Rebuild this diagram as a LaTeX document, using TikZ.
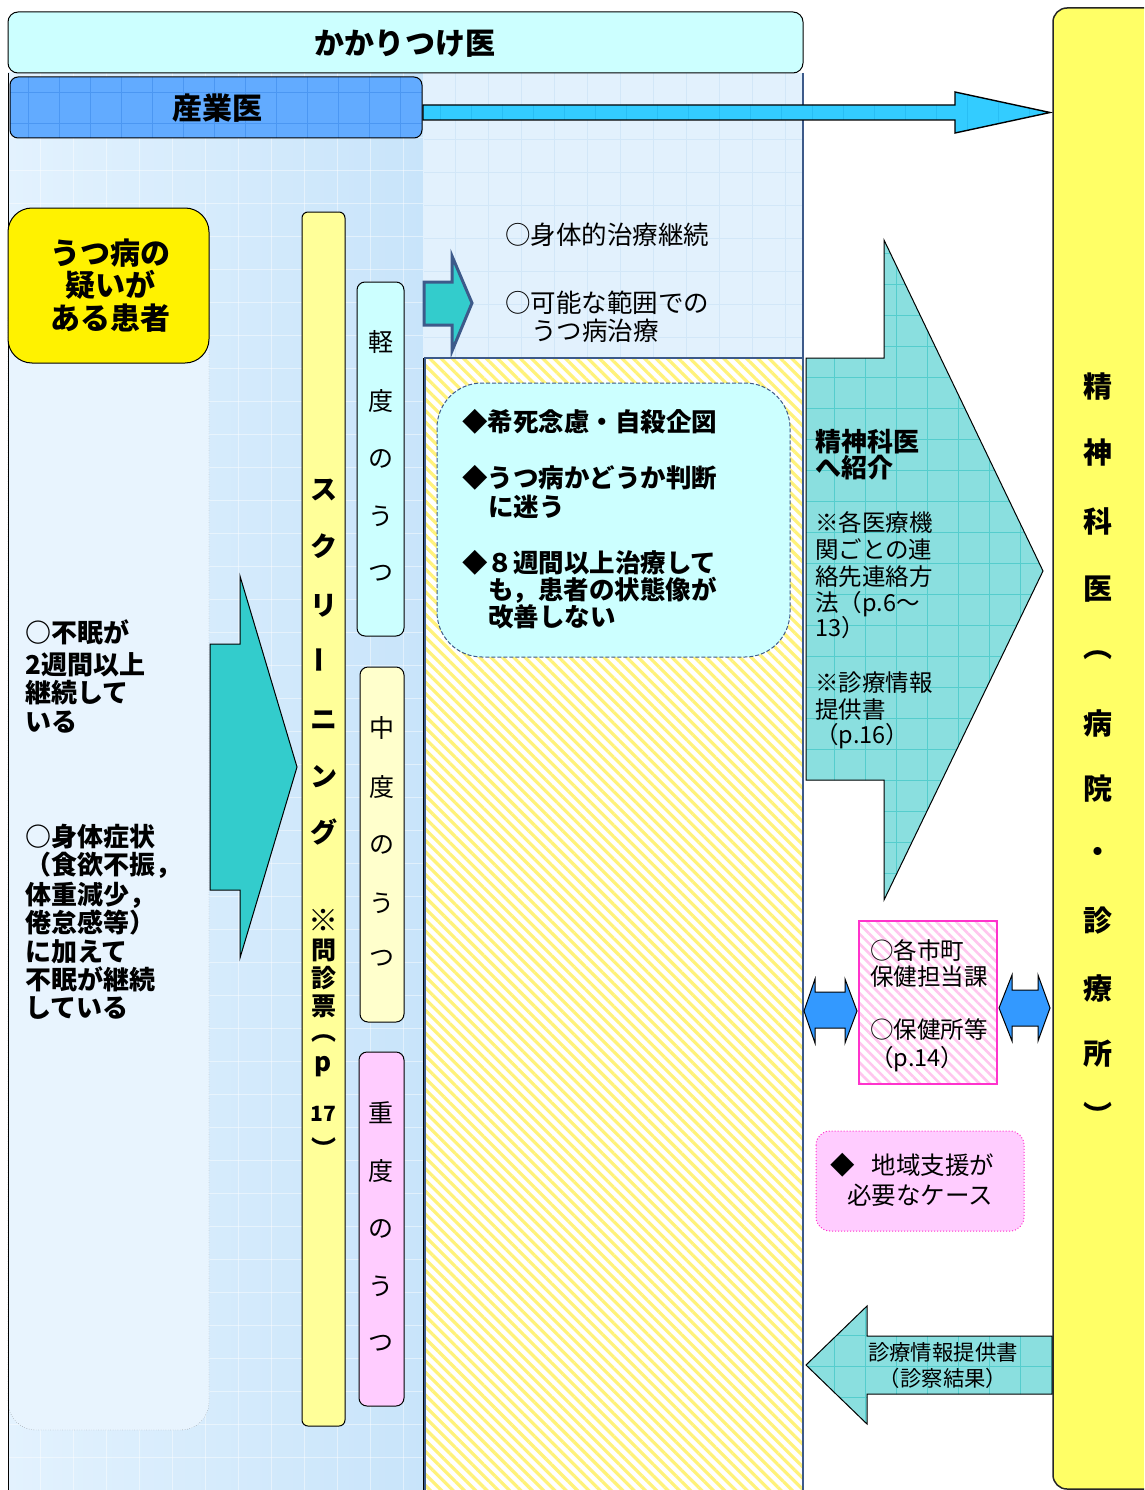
\documentclass[tikz,border=0pt]{standalone}
\usepackage{fontspec}
\usepackage{graphicx}
\usetikzlibrary{patterns.meta}
\newfontfamily\jp{Noto Sans CJK JP}
\definecolor{kakari}{HTML}{CCFFFF}
\definecolor{panelL}{HTML}{E3F2FE}
\definecolor{panelR}{HTML}{C8E4FA}
\definecolor{innerL}{HTML}{E8F4FE}
\definecolor{midtop}{HTML}{E2F1FD}
\definecolor{midgrid}{HTML}{D2E7F8}
\definecolor{sangyo}{HTML}{62ABFF}
\definecolor{sgrid}{HTML}{4B97F2}
\definecolor{larrow}{HTML}{33CCFF}
\definecolor{lagrid}{HTML}{22B5EE}
\definecolor{tealA}{HTML}{33CCCC}
\definecolor{slate}{HTML}{3D5A8A}
\definecolor{tealB}{HTML}{8ADFDF}
\definecolor{tgrid}{HTML}{55CDCD}
\definecolor{dblue}{HTML}{3399FF}
\definecolor{ycol}{HTML}{FFFF66}
\definecolor{yscr}{HTML}{FFFF99}
\definecolor{lcyan}{HTML}{CCFFFF}
\definecolor{lyel}{HTML}{FFFFCC}
\definecolor{lpink}{HTML}{FFCCFF}
\definecolor{mag}{HTML}{FF33CC}
\definecolor{stripeY}{HTML}{FFF27A}
\definecolor{stripeP}{HTML}{FFC6EE}
\tikzset{
  jr/.style={inner sep=0pt, font={\jp\fontsize{#1}{#1}\selectfont}},
  jb/.style={inner sep=0pt, font={\jp\bfseries\fontsize{#1}{#1}\selectfont}},
  outl/.style={draw=black, line width=1pt},
}
\begin{document}
\begin{tikzpicture}[x=1pt,y=-1pt]
\clip (0,0) rectangle (1144,1490);
\fill[white] (0,0) rectangle (1144,1490);

% ---------- left panel (産業医 area)
\shade[left color=panelL, right color=panelR] (8,73) rectangle (423,1495);
\foreach \gx in {40,73,...,420} \draw[white, opacity=0.45] (\gx,73) -- (\gx,1495);
\foreach \gy in {104,137,...,1490} \draw[white, opacity=0.45] (8,\gy) -- (423,\gy);
\draw[dotted, gray!80!black, fill=innerL, rounded corners=28] (8,290) rectangle (209,1430);
\draw[black, line width=1pt] (8,73) -- (8,1495);
\draw[black, line width=1pt] (423,73) -- (423,1495);

% ---------- middle top region
\fill[midtop] (423,73) rectangle (803,358);
\foreach \gx in {455,488,...,800} \draw[midgrid] (\gx,73) -- (\gx,358);
\foreach \gy in {106,139,...,355} \draw[midgrid] (424,\gy) -- (803,\gy);

% ---------- middle lower region (stripes)
\fill[white] (424,358) rectangle (803,1495);
\fill[pattern={Lines[angle=-45,distance=8pt,line width=3.2pt]}, pattern color=stripeY] (424,358) rectangle (803,1495);
\draw[slate, line width=1.5pt] (425,1495) -- (425,358) -- (803,358);
\draw[slate, line width=1.5pt] (803,73) -- (803,1495);

% ---------- かかりつけ医
\draw[black, line width=1pt, fill=kakari, rounded corners=10] (8,12) rectangle (803,73);
\node[jb=30, anchor=base] (kakari) at (405,54.4) {かかりつけ医};

% ---------- 産業医
\begin{scope}
\clip[rounded corners=8] (10,77) rectangle (422,138);
\fill[sangyo] (10,77) rectangle (422,138);
\foreach \gx in {28,59,...,422} \draw[sgrid] (\gx,77) -- (\gx,138);
\foreach \gy in {92,123} \draw[sgrid] (10,\gy) -- (422,\gy);
\end{scope}
\draw[rounded corners=8, line width=1pt] (10,77) rectangle (422,138);
\node[jb=30, anchor=base] (sangyo) at (217,119.4) {産業医};

% ---------- long arrow to 精神科医
\begin{scope}
\clip (423,105) -- (955,105) -- (955,92) -- (1050,112.5) -- (955,133) -- (955,120) -- (423,120) -- cycle;
\fill[larrow] (423,90) rectangle (1052,135);
\foreach \gx in {440,471,...,1050} \draw[lagrid, opacity=0.6] (\gx,90) -- (\gx,135);
\end{scope}
\draw[outl, line width=1.4pt] (423,105) -- (955,105) -- (955,92) -- (1050,112.5) -- (955,133) -- (955,120) -- (423,120) -- cycle;

% ---------- right column 精神科医（病院・診療所）
\draw[line width=1.5pt, draw=black!85, fill=ycol, rounded corners=14] (1053,8) rectangle (1165,1489);
\foreach \c/\yy [count=\i] in {精/387,神/453,科/521,医/589,︵/655,病/723,院/789,・/855,診/921,療/988,所/1054,︶/1114}
  \node[jb=29] (col\i) at (1098,\yy) {\c};

% ---------- うつ病の疑いがある患者
\draw[outl, fill=yellow, rounded corners=24] (8,208) rectangle (209,363);
\node[jb=30, anchor=base] (pat1) at (110,264.4) {うつ病の};
\node[jb=30, anchor=base] (pat2) at (110,296.4) {疑いが};
\node[jb=30, anchor=base] (pat3) at (110,329.4) {ある患者};

% ---------- left symptom texts
\foreach \t/\yy [count=\i] in {○不眠が/633,2週間以上/665,継続して/693,いる/722}
  \node[jb=26, anchor=base west] (la\i) at (25,\yy+9.9) {\t};
\foreach \t/\yy [count=\i] in {○身体症状/837,（食欲不振，/865,体重減少，/895,倦怠感等）/923,に加えて/952,不眠が継続/980,している/1008}
  \node[jb=26, anchor=base west] (lb\i) at (25,\yy+9.9) {\t};

% ---------- big teal arrow (left)
\draw[outl, fill=tealA] (210,644) -- (240,644) -- (240,576) -- (297,767) -- (240,958) -- (240,890) -- (210,890) -- cycle;

% ---------- screening bar
\draw[outl, fill=yscr, rounded corners=6] (302,212) rectangle (345,1426);
\foreach \c/\yy [count=\i] in {ス/490,ク/546,リ/606,ニ/720,ン/777,グ/832}
  \node[jb=27] (scr\i) at (323.5,\yy) {\c};
\node[jb=27] (scrbar) at (323.5,660) {\rotatebox{90}{ー}};
\node[jb=30] (mon0) at (323.5,920) {※};
\foreach \c/\yy [count=\i] in {問/950,診/978,票/1006,︵/1038}
  \node[jb=25] (mon\i) at (323.5,\yy) {\c};
\node[jb=26] (monp) at (323.5,1067) {p};
\node[jb=21] (mon17) at (323.5,1114) {17};
\node[jb=25] (monclose) at (323.5,1148) {︶};

% ---------- severity boxes
\draw[outl, fill=lcyan, rounded corners=8] (357,282) rectangle (404,636);
\foreach \c/\yy [count=\i] in {軽/342,度/401,の/459,う/516,つ/573}
  \node[jr=25] (kei\i) at (381,\yy) {\c};
\draw[outl, fill=lyel, rounded corners=8] (360,667) rectangle (404,1022);
\foreach \c/\yy [count=\i] in {中/728,度/787,の/845,う/903,つ/958}
  \node[jr=25] (chu\i) at (382,\yy) {\c};
\draw[outl, fill=lpink, rounded corners=8] (359,1052) rectangle (404,1406);
\foreach \c/\yy [count=\i] in {重/1113,度/1171,の/1229,う/1286,つ/1343}
  \node[jr=25] (ju\i) at (381,\yy) {\c};

% ---------- small teal arrow + middle-top texts
\draw[draw=slate, line width=3pt, fill=tealA, line join=miter] (424,282) -- (452,282) -- (452,256) -- (472,303) -- (452,351) -- (452,325) -- (424,325) -- cycle;
\node[jr=25.5, anchor=base west] (mt1) at (505,244.7) {○身体的治療継続};
\node[jr=25.5, anchor=base west] (mt2) at (505,312.7) {○可能な範囲での};
\node[jr=25.5, anchor=base west] (mt3) at (531,340.7) {うつ病治療};

% ---------- dashed referral-criteria box
\draw[slate, dash pattern=on 4pt off 2pt, line width=1pt, fill=lcyan, rounded corners=45] (437,383) rectangle (790,657);
\node[jb=25.5, anchor=base west] (cr1) at (462,431.7) {◆希死念慮・自殺企図};
\node[jb=25.5, anchor=base west] (cr2) at (462,487.7) {◆うつ病かどうか判断};
\node[jb=25.5, anchor=base west] (cr3) at (488,516.7) {に迷う};
\node[jb=25.5, anchor=base west] (cr4) at (462,572.7) {◆８週間以上治療して};
\node[jb=25.5, anchor=base west] (cr5) at (488,599.7) {も，患者の状態像が};
\node[jb=25.5, anchor=base west] (cr6) at (488,626.7) {改善しない};

% ---------- big teal arrow (right)
\begin{scope}
\clip (806,358) -- (884,358) -- (884,240) -- (1043,571) -- (884,900) -- (884,780) -- (806,780) -- cycle;
\fill[tealB] (800,235) rectangle (1050,905);
\foreach \gx in {834,865,...,1050} \draw[tgrid] (\gx,235) -- (\gx,905);
\foreach \gy in {253,284,...,905} \draw[tgrid] (800,\gy) -- (1050,\gy);
\end{scope}
\draw[outl] (806,358) -- (884,358) -- (884,240) -- (1043,571) -- (884,900) -- (884,780) -- (806,780) -- cycle;
\node[jb=26, anchor=base west] (ref1) at (815,451.9) {精神科医};
\node[jb=26, anchor=base west] (ref2) at (815,477.9) {へ紹介};
\foreach \t/\yy [count=\i] in {※各医療機/523,関ごとの連/550,絡先連絡方/577,法（p.6～/603,13）/628,※診療情報/683,提供書/710,（p.16）/735}
  \node[jr=23.5, anchor=base west] (note\i) at (815,\yy+8.9) {\t};

% ---------- health office box and double arrows
\fill[white] (859,921) rectangle (997,1084);
\fill[pattern={Lines[angle=-45,distance=7pt,line width=2.6pt]}, pattern color=stripeP] (859,921) rectangle (997,1084);
\draw[mag, line width=1.5pt] (859,921) rectangle (997,1084);
\foreach \t/\yy [count=\i] in {○各市町/951,保健担当課/977,○保健所等/1030,（p.14）/1058}
  \node[jr=23.5, anchor=base west] (ho\i) at (870,\yy+8.9) {\t};
\draw[outl, fill=dblue] (804,1011) -- (815,979) -- (815,992) -- (845,992) -- (845,979) -- (857,1011) -- (845,1043) -- (845,1028) -- (815,1028) -- (815,1043) -- cycle;
\draw[outl, fill=dblue] (999,1008) -- (1012,975) -- (1012,990) -- (1038,990) -- (1038,975) -- (1050,1008) -- (1038,1041) -- (1038,1026) -- (1012,1026) -- (1012,1041) -- cycle;

% ---------- community support box
\draw[mag, dotted, line width=1pt, fill=lpink, rounded corners=14] (816,1131) rectangle (1024,1231);
\node[jr=24.5, anchor=base west] (cs1) at (830,1174.3) {◆\hspace{17pt}地域支援が};
\node[jr=24.5, anchor=base west] (cs2) at (847,1204.3) {必要なケース};

% ---------- return arrow
\begin{scope}
\clip (806,1365) -- (867,1306) -- (867,1336) -- (1052,1336) -- (1052,1394) -- (867,1394) -- (867,1424) -- cycle;
\fill[tealB] (800,1300) rectangle (1055,1430);
\foreach \gx in {834,865,...,1055} \draw[tgrid] (\gx,1300) -- (\gx,1430);
\foreach \gy in {1335,1366,1397} \draw[tgrid] (800,\gy) -- (1055,\gy);
\end{scope}
\draw[outl] (806,1365) -- (867,1306) -- (867,1336) -- (1052,1336) -- (1052,1394) -- (867,1394) -- (867,1424) -- cycle;
\node[jr=21.4, anchor=base] (ret1) at (943,1360) {診療情報提供書};
\node[jr=21.4, anchor=base] (ret2) at (943,1386) {（診察結果）};
\end{tikzpicture}
\end{document}
